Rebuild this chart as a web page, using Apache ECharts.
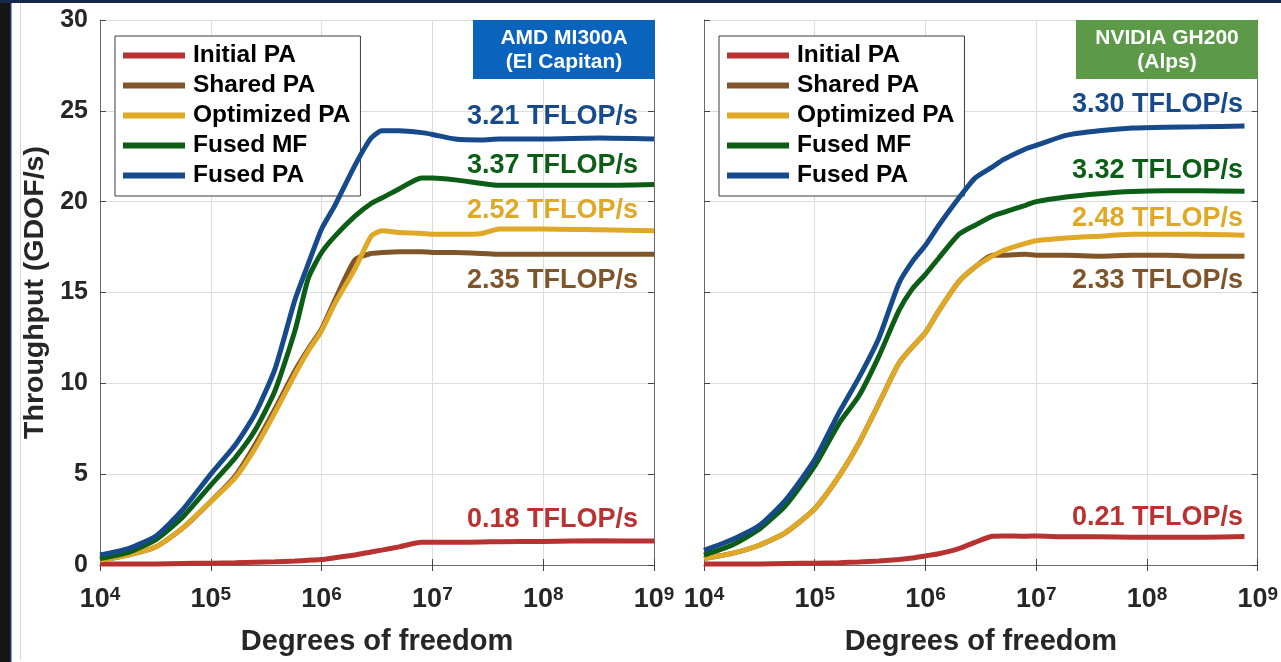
<!DOCTYPE html>
<html>
<head>
<meta charset="utf-8">
<script src="https://cdn.jsdelivr.net/npm/echarts@6/dist/echarts.min.js"></script>
<style>
html,body{margin:0;padding:0;background:#fff;}
#chart{width:1281px;height:662px;}
</style>
</head>
<body>
<div id="chart"></div>
<script>
// ---------- data ----------
const seriesNames = ['Initial PA', 'Shared PA', 'Optimized PA', 'Fused MF', 'Fused PA'];
const seriesColors = ['#b83232', '#80552a', '#dfa826', '#0c5e17', '#164a8a'];
const yTicks = [0, 5, 10, 15, 20, 25, 30];

// AMD MI300A (El Capitan)
const dofAMD = [1e4, 1.8e4, 3.2e4, 5.5e4, 1e5, 1.66e5, 2.5e5, 3.8e5, 5.75e5, 7.6e5, 1e6, 1.32e6, 2e6, 2.8e6, 3.5e6, 5e6, 8e6, 1e7, 1.6e7, 2.8e7, 4e7, 1e8, 3.2e8, 1e9];
const amdInitial   = [0.05, 0.05, 0.06, 0.08, 0.1, 0.12, 0.15, 0.18, 0.22, 0.26, 0.3, 0.4, 0.55, 0.72, 0.82, 1.0, 1.25, 1.25, 1.25, 1.27, 1.28, 1.3, 1.33, 1.32];
const amdShared    = [0.27, 0.55, 1.0, 2.0, 3.5, 4.9, 6.6, 8.6, 10.7, 11.9, 13.0, 14.6, 16.8, 17.15, 17.2, 17.25, 17.25, 17.2, 17.2, 17.15, 17.1, 17.1, 17.1, 17.1];
const amdOptimized = [0.27, 0.55, 1.0, 2.0, 3.5, 4.8, 6.4, 8.4, 10.5, 11.8, 12.9, 14.4, 16.3, 18.1, 18.4, 18.3, 18.25, 18.2, 18.2, 18.25, 18.5, 18.5, 18.45, 18.4];
const amdFusedMF   = [0.36, 0.7, 1.4, 2.6, 4.4, 5.9, 7.4, 9.6, 12.9, 15.8, 17.2, 18.1, 19.2, 19.9, 20.2, 20.7, 21.3, 21.3, 21.2, 21.0, 20.9, 20.9, 20.9, 20.95];
const amdFusedPA   = [0.55, 0.9, 1.6, 3.0, 5.0, 6.6, 8.3, 10.8, 14.6, 16.6, 18.5, 19.8, 22.0, 23.5, 23.9, 23.9, 23.8, 23.7, 23.45, 23.4, 23.45, 23.45, 23.5, 23.45];
const amdLabels    = ['0.18 TFLOP/s', '2.35 TFLOP/s', '2.52 TFLOP/s', '3.37 TFLOP/s', '3.21 TFLOP/s'];

// NVIDIA GH200 (Alps)
const dofGH = [1e4, 1.8e4, 3.2e4, 5.5e4, 1e5, 1.66e5, 2.5e5, 3.8e5, 5.75e5, 7.6e5, 1e6, 1.32e6, 2e6, 2.8e6, 4e6, 5e6, 8e6, 1e7, 1.86e7, 3.7e7, 7.4e7, 1.48e8, 2.95e8, 7.6e8];
const ghInitial   = [0.05, 0.05, 0.06, 0.08, 0.1, 0.13, 0.17, 0.22, 0.3, 0.38, 0.5, 0.62, 0.9, 1.25, 1.58, 1.6, 1.58, 1.6, 1.55, 1.55, 1.53, 1.53, 1.53, 1.57];
const ghShared    = [0.36, 0.64, 1.1, 1.8, 3.1, 4.9, 6.7, 8.9, 11.1, 12.0, 12.8, 14.0, 15.6, 16.4, 17.05, 17.05, 17.1, 17.05, 17.05, 17.0, 17.05, 17.05, 17.0, 17.0];
const ghOptimized = [0.36, 0.64, 1.1, 1.8, 3.1, 4.9, 6.7, 8.9, 11.1, 12.0, 12.8, 14.0, 15.6, 16.4, 17.0, 17.3, 17.7, 17.85, 18.0, 18.1, 18.2, 18.2, 18.2, 18.15];
const ghFusedMF   = [0.55, 1.1, 2.0, 3.3, 5.45, 7.8, 9.3, 11.5, 14.0, 15.2, 16.0, 16.9, 18.2, 18.7, 19.2, 19.4, 19.8, 20.0, 20.26, 20.44, 20.56, 20.6, 20.6, 20.57];
const ghFusedPA   = [0.8, 1.4, 2.2, 3.6, 5.8, 8.4, 10.3, 12.5, 15.5, 16.7, 17.6, 18.7, 20.2, 21.3, 21.9, 22.3, 22.9, 23.1, 23.65, 23.9, 24.05, 24.1, 24.12, 24.17];
const ghLabels    = ['0.21 TFLOP/s', '2.33 TFLOP/s', '2.48 TFLOP/s', '3.32 TFLOP/s', '3.30 TFLOP/s'];

const panelTitles = [['AMD MI300A', '(El Capitan)'], ['NVIDIA GH200', '(Alps)']];
const xName = 'Degrees of freedom';
const yName = 'Throughput (GDOF/s)';

// ---------- chart ----------
const FONT = '"Liberation Sans", Arial, Helvetica, sans-serif';
const TXT = '#262626';
const chart = echarts.init(document.getElementById('chart'), null, {renderer: 'canvas'});

const grids = [
  {left: 100, top: 20, width: 554, height: 549},
  {left: 704, top: 20, width: 554, height: 549}
];

function xAxes(gi) {
  const common = {
    type: 'log', logBase: 10, min: 1e4, max: 1e9, gridIndex: gi,
    axisLine: {show: true, lineStyle: {color: '#6a6a6a', width: 1}},
    axisTick: {show: true, inside: true, length: 6, lineStyle: {color: '#444'}}
  };
  return [
    Object.assign({}, common, {
      position: 'bottom',
      name: xName, nameLocation: 'middle', nameGap: 62,
      nameTextStyle: {fontFamily: FONT, fontWeight: 'bold', fontSize: 29, color: TXT, lineHeight: 30},
      splitLine: {show: true, lineStyle: {color: '#dcdcdc', width: 1}},
      axisLabel: {
        show: true, margin: 20, fontFamily: FONT, color: TXT,
        formatter: function (v) { return '{b|10}{s|' + Math.round(Math.log10(v)) + '}'; },
        rich: {
          b: {fontFamily: FONT, fontWeight: 'bold', fontSize: 27, lineHeight: 30, color: TXT},
          s: {fontFamily: FONT, fontWeight: 'bold', fontSize: 19, lineHeight: 13, verticalAlign: 'top', color: TXT}
        }
      }
    }),
    Object.assign({}, common, {
      position: 'top', axisLabel: {show: false}, splitLine: {show: false}
    })
  ];
}
function yAxes(gi, showLabels) {
  const common = {
    type: 'value', min: 0, max: 30, interval: 5, gridIndex: gi,
    axisLine: {show: true, lineStyle: {color: '#6a6a6a', width: 1}},
    axisTick: {show: true, inside: true, length: 6, lineStyle: {color: '#444'}}
  };
  const left = Object.assign({}, common, {
    position: 'left',
    splitLine: {show: true, lineStyle: {color: '#dcdcdc', width: 1}},
    axisLabel: {show: showLabels, margin: 12, fontFamily: FONT, fontWeight: 'bold', fontSize: 25, color: TXT}
  });
  if (showLabels) {
    Object.assign(left, {
      name: yName, nameLocation: 'middle', nameGap: 50, nameRotate: 90,
      nameTextStyle: {fontFamily: FONT, fontWeight: 'bold', fontSize: 28.5, color: TXT}
    });
  }
  return [left, Object.assign({}, common, {position: 'right', axisLabel: {show: false}, splitLine: {show: false}})];
}

const panels = [
  {dof: dofAMD, vals: [amdInitial, amdShared, amdOptimized, amdFusedMF, amdFusedPA]},
  {dof: dofGH, vals: [ghInitial, ghShared, ghOptimized, ghFusedMF, ghFusedPA]}
];
const series = [];
panels.forEach(function (p, gi) {
  p.vals.forEach(function (arr, si) {
    series.push({
      name: seriesNames[si], type: 'line',
      xAxisIndex: gi * 2, yAxisIndex: gi * 2,
      data: p.dof.map(function (d, i) { return [d, arr[i]]; }),
      showSymbol: false, smooth: 0.2,
      lineStyle: {color: seriesColors[si], width: 5},
      itemStyle: {color: seriesColors[si]},
      emphasis: {disabled: true},
      z: 2 + si
    });
  });
});

function legendAt(left) {
  return {
    data: seriesNames, orient: 'vertical', left: left, top: 36,
    icon: 'rect', itemWidth: 62, itemHeight: 6, itemGap: 5,
    padding: [7, 10, 8, 8],
    backgroundColor: '#ffffff', borderColor: '#3c3c3c', borderWidth: 1,
    selectedMode: false,
    textStyle: {fontFamily: FONT, fontWeight: 'bold', fontSize: 24.5, lineHeight: 24, color: '#000', padding: [0, 0, 0, 3]}
  };
}

// annotation text (panel boxes and TFLOP/s labels)
const labelY = [[520, 281, 211, 166, 117], [518, 281, 219, 171, 105]];
const labelRight = [638, 1243];
const boxes = [{x: 473, w: 182, color: '#0a64be'}, {x: 1076, w: 182, color: '#5c9a4a'}];
const graphics = [
  {type: 'rect', shape: {x: 0, y: 0, width: 10, height: 662}, style: {fill: '#161616'}, silent: true},
  {type: 'rect', shape: {x: 10, y: 0, width: 1.5, height: 662}, style: {fill: '#20386a'}, silent: true},
  {type: 'rect', shape: {x: 0, y: 0, width: 1281, height: 3}, style: {fill: '#15284a'}, silent: true},
  {type: 'rect', shape: {x: 20, y: 3, width: 1, height: 657}, style: {fill: '#d6d6d6'}, silent: true}
];
[0, 1].forEach(function (gi) {
  const lbls = gi === 0 ? amdLabels : ghLabels;
  lbls.forEach(function (t, si) {
    graphics.push({
      type: 'text', x: labelRight[gi], y: labelY[gi][si], z: 100,
      style: {text: t, fill: seriesColors[si], font: 'bold 27px ' + FONT, textAlign: 'right', textVerticalAlign: 'middle'}
    });
  });
  const b = boxes[gi];
  graphics.push({type: 'rect', z: 100, shape: {x: b.x, y: 20, width: b.w, height: 59}, style: {fill: b.color}});
  graphics.push({type: 'text', z: 101, x: b.x + b.w / 2, y: 38,
    style: {text: panelTitles[gi][0], fill: '#fff', font: 'bold 21px ' + FONT, textAlign: 'center', textVerticalAlign: 'middle'}});
  graphics.push({type: 'text', z: 101, x: b.x + b.w / 2, y: 62,
    style: {text: panelTitles[gi][1], fill: '#fff', font: 'bold 21px ' + FONT, textAlign: 'center', textVerticalAlign: 'middle'}});
});

chart.setOption({
  animation: false,
  backgroundColor: '#ffffff',
  grid: grids,
  xAxis: xAxes(0).concat(xAxes(1)),
  yAxis: yAxes(0, true).concat(yAxes(1, false)),
  legend: [legendAt(115), legendAt(719)],
  series: series,
  graphic: graphics
});
</script>
</body>
</html>
